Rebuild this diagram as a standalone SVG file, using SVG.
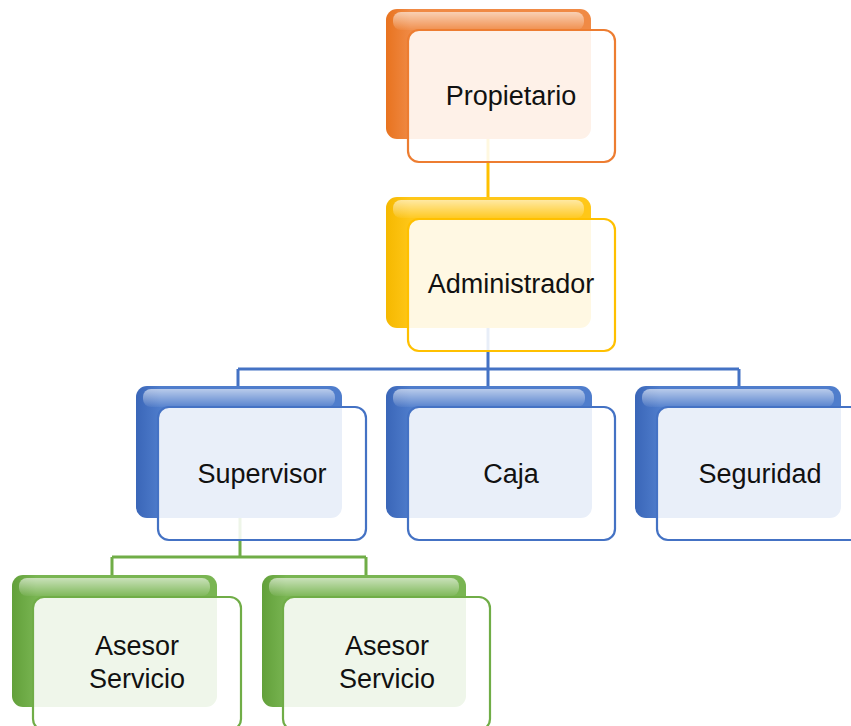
<svg xmlns="http://www.w3.org/2000/svg" width="851" height="726" viewBox="0 0 851 726">
<defs>
<linearGradient id="gO" x1="0" y1="0" x2="1" y2="0"><stop offset="0" stop-color="#E8731F"/><stop offset="0.12" stop-color="#F08A45"/><stop offset="1" stop-color="#F08A45"/></linearGradient>
<linearGradient id="gY" x1="0" y1="0" x2="1" y2="0"><stop offset="0" stop-color="#F5B800"/><stop offset="0.12" stop-color="#FFC718"/><stop offset="1" stop-color="#FFC718"/></linearGradient>
<linearGradient id="gB" x1="0" y1="0" x2="1" y2="0"><stop offset="0" stop-color="#3A66B8"/><stop offset="0.12" stop-color="#4F7DCC"/><stop offset="1" stop-color="#4F7DCC"/></linearGradient>
<linearGradient id="gG" x1="0" y1="0" x2="1" y2="0"><stop offset="0" stop-color="#62A03A"/><stop offset="0.12" stop-color="#79B552"/><stop offset="1" stop-color="#79B552"/></linearGradient>
<linearGradient id="hl" x1="0" y1="0" x2="0" y2="1"><stop offset="0" stop-color="#fff" stop-opacity="0.6"/><stop offset="1" stop-color="#fff" stop-opacity="0.05"/></linearGradient>
<style>
.back{stroke:none}
.gloss{fill:url(#hl)}
.front{fill:#fff;fill-opacity:0.88;stroke-width:2.2}
.lbl{font-family:"Liberation Sans",Arial,sans-serif;font-size:27px;fill:#111;text-anchor:middle}
.conn{fill:none;stroke-width:3}
</style>
</defs>

<g id="connectors">
<path class="conn" stroke="#FFC000" d="M488,139 V197"/>
<path class="conn" stroke="#4472C4" d="M488,328 V369 M238,369 H739 M238,369 V386 M488,369 V386 M739,369 V386"/>
<path class="conn" stroke="#70AD47" d="M240,518 V557 M112,557 H366 M112,557 V575 M366,557 V575"/>
</g>

<g id="propietario">
<rect class="back" x="386" y="9" width="205" height="130" rx="11" fill="url(#gO)"/>
<rect class="gloss" x="393" y="12" width="191" height="18" rx="8"/>
<rect class="front" x="408" y="30" width="207" height="132" rx="11" stroke="#ED7D31"/>
<text class="lbl" x="511" y="105">Propietario</text>
</g>

<g id="administrador">
<rect class="back" x="386" y="197" width="205" height="131" rx="11" fill="url(#gY)"/>
<rect class="gloss" x="393" y="200" width="191" height="18" rx="8"/>
<rect class="front" x="408" y="219" width="207" height="132" rx="11" stroke="#FFC000"/>
<text class="lbl" x="511" y="293">Administrador</text>
</g>

<g id="supervisor">
<rect class="back" x="136" y="386" width="206" height="132" rx="11" fill="url(#gB)"/>
<rect class="gloss" x="143" y="389" width="192" height="18" rx="8"/>
<rect class="front" x="158" y="407" width="208" height="133" rx="11" stroke="#4472C4"/>
<text class="lbl" x="262" y="483">Supervisor</text>
</g>

<g id="caja">
<rect class="back" x="386" y="386" width="206" height="132" rx="11" fill="url(#gB)"/>
<rect class="gloss" x="393" y="389" width="192" height="18" rx="8"/>
<rect class="front" x="408" y="407" width="207" height="133" rx="11" stroke="#4472C4"/>
<text class="lbl" x="511" y="483">Caja</text>
</g>

<g id="seguridad">
<rect class="back" x="635" y="386" width="206" height="132" rx="11" fill="url(#gB)"/>
<rect class="gloss" x="642" y="389" width="192" height="18" rx="8"/>
<rect class="front" x="657" y="407" width="207" height="133" rx="11" stroke="#4472C4"/>
<text class="lbl" x="760" y="483">Seguridad</text>
</g>

<g id="asesor1">
<rect class="back" x="12" y="575" width="205" height="132" rx="11" fill="url(#gG)"/>
<rect class="gloss" x="19" y="578" width="191" height="18" rx="8"/>
<rect class="front" x="33" y="597" width="208" height="133" rx="11" stroke="#70AD47"/>
<text class="lbl" x="137" y="655">Asesor</text>
<text class="lbl" x="137" y="688">Servicio</text>
</g>

<g id="asesor2">
<rect class="back" x="262" y="575" width="204" height="132" rx="11" fill="url(#gG)"/>
<rect class="gloss" x="269" y="578" width="190" height="18" rx="8"/>
<rect class="front" x="283" y="597" width="207" height="133" rx="11" stroke="#70AD47"/>
<text class="lbl" x="387" y="655">Asesor</text>
<text class="lbl" x="387" y="688">Servicio</text>
</g>
</svg>
